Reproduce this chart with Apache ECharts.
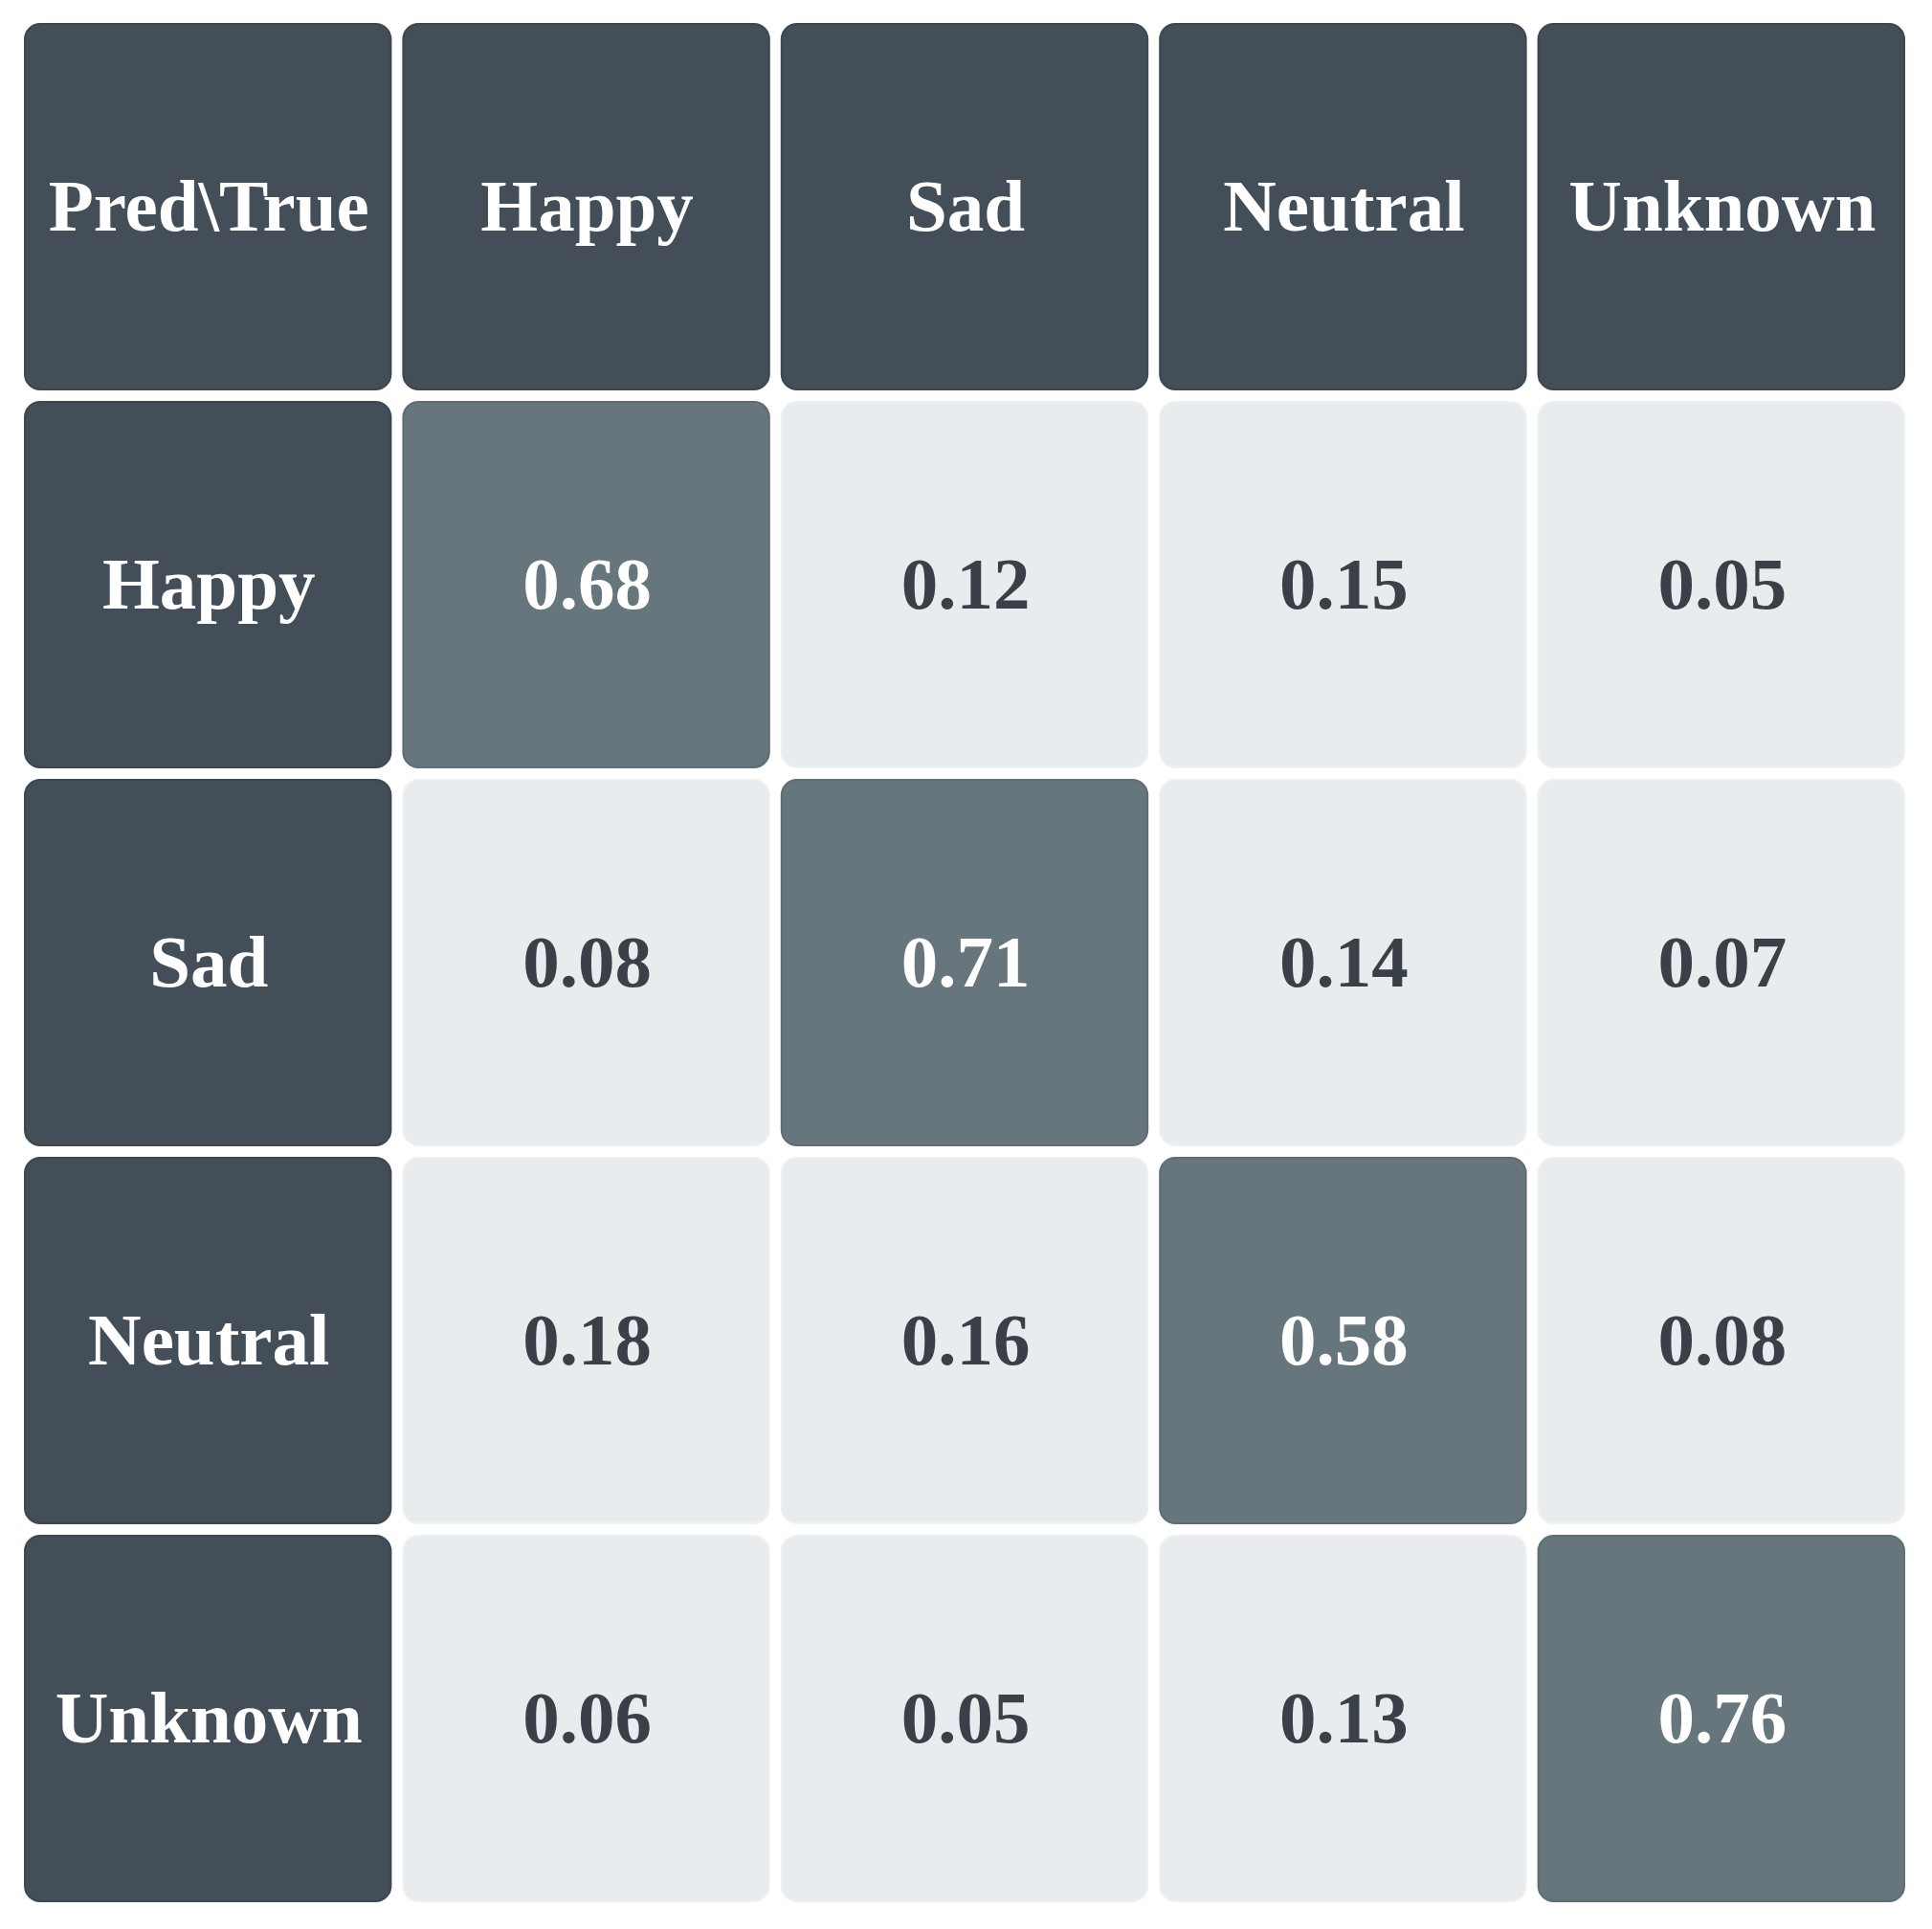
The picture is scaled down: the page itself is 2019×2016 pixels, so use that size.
<!DOCTYPE html>
<html>
<head>
<meta charset="utf-8">
<script src="https://cdn.jsdelivr.net/npm/echarts@6/dist/echarts.min.js"></script>
<style>
html,body{margin:0;padding:0;background:#ffffff;}
#chart{width:2019px;height:2016px;}
</style>
</head>
<body>
<div id="chart"></div>
<script>
const cornerLabel = 'Pred\\True';
const trueLabels = ['Happy', 'Sad', 'Neutral', 'Unknown'];
const predLabels = ['Happy', 'Sad', 'Neutral', 'Unknown'];
const rowHappy = [0.68, 0.12, 0.15, 0.05];
const rowSad = [0.08, 0.71, 0.14, 0.07];
const rowNeutral = [0.18, 0.16, 0.58, 0.08];
const rowUnknown = [0.06, 0.05, 0.13, 0.76];
const matrix = [rowHappy, rowSad, rowNeutral, rowUnknown];

const xCats = [cornerLabel].concat(trueLabels);
const yCats = [cornerLabel].concat(predLabels);

const HEADER = '#444e58';
const HIGH = '#67757d';
const LOW = '#e8ecef';
const DARK_TEXT = '#3a4047';

// build cell data: [xIndex, yIndex, text, kind]
const data = [];
data.push([0, 0, cornerLabel, 'header']);
trueLabels.forEach((t, i) => data.push([i + 1, 0, t, 'header']));
predLabels.forEach((p, j) => {
  data.push([0, j + 1, p, 'header']);
  matrix[j].forEach((v, i) => {
    data.push([i + 1, j + 1, v.toFixed(2), v >= 0.5 ? 'high' : 'low', v]);
  });
});

const chart = echarts.init(document.getElementById('chart'));
chart.setOption({
  animation: false,
  backgroundColor: '#ffffff',
  grid: { left: 19.5, top: 18.5, width: 1977, height: 1975 },
  xAxis: { type: 'category', data: xCats, show: false },
  yAxis: { type: 'category', data: yCats, show: false, inverse: true },
  series: [{
    type: 'custom',
    data: data,
    encode: { x: 0, y: 1 },
    renderItem: function (params, api) {
      const c = api.coord([api.value(0), api.value(1)]);
      const s = api.size([1, 1]);
      const gap = 13;
      const w = s[0] - gap, h = s[1] - gap;
      const kind = data[params.dataIndex][3];
      const text = data[params.dataIndex][2];
      const fill = kind === 'header' ? HEADER : (kind === 'high' ? HIGH : LOW);
      const tcol = kind === 'low' ? DARK_TEXT : '#ffffff';
      const edge = kind === 'low' ? '#eef1f3' : (kind === 'high' ? '#5f6c74' : '#3e4750');
      return {
        type: 'group',
        children: [{
          type: 'rect',
          shape: { x: c[0] - w / 2, y: c[1] - h / 2, width: w, height: h, r: 16 },
          style: { fill: fill, stroke: edge, lineWidth: 2 }
        }, {
          type: 'text',
          x: c[0] + 1, y: c[1] + 5,
          style: {
            text: text,
            fill: tcol,
            font: 'bold 77px "Liberation Serif", "Times New Roman", serif',
            align: 'center',
            verticalAlign: 'middle'
          }
        }]
      };
    }
  }]
});
</script>
</body>
</html>
